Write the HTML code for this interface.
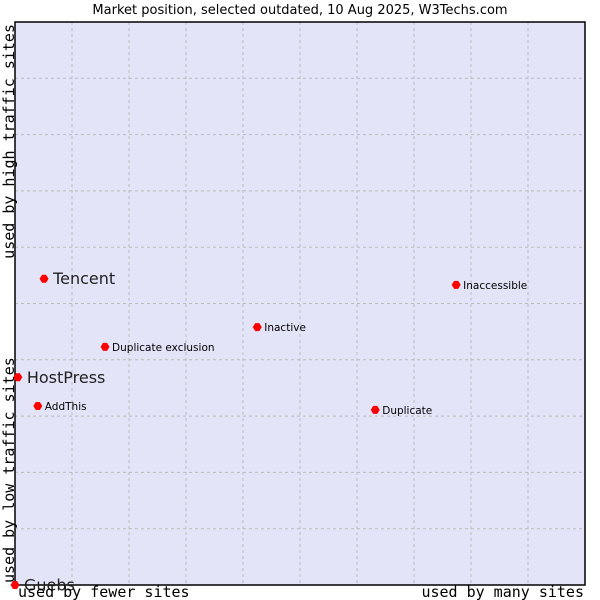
<!DOCTYPE html>
<html><head><meta charset="utf-8"><style>
body{margin:0;background:#fff;}
svg{display:block;}
</style></head><body>
<svg id="chart" width="600" height="600" xmlns="http://www.w3.org/2000/svg">
<text x="300" y="14" text-anchor="middle" font-family="DejaVu Sans, sans-serif" font-size="13" fill="#000">Market position, selected outdated, 10 Aug 2025, W3Techs.com</text>
<rect x="15" y="22" width="570" height="563" fill="#e3e4f8"/>
<g id="grid"></g>
<rect x="15" y="22" width="570" height="563" fill="none" stroke="#000" stroke-width="1.5"/>
<g id="points"></g>
<text x="18" y="597" font-family="DejaVu Sans Mono, monospace" font-size="15" fill="#000">used by fewer sites</text>
<text x="584" y="597" text-anchor="end" font-family="DejaVu Sans Mono, monospace" font-size="15" fill="#000">used by many sites</text>
<text transform="translate(14,24) rotate(-90)" text-anchor="end" font-family="DejaVu Sans Mono, monospace" font-size="15" fill="#000">used by high traffic sites</text>
<text transform="translate(14,583) rotate(-90)" text-anchor="start" font-family="DejaVu Sans Mono, monospace" font-size="15" fill="#000">used by low traffic sites</text>
</svg>
<script>
const names = ["Tencent","HostPress","Guebs","Inaccessible","Inactive","Duplicate exclusion","AddThis","Duplicate"];
const xValues = [5.1,0.5,0,77.4,42.5,15.8,4.0,63.2];
const yValues = [54.4,36.9,0,53.3,45.8,42.3,31.8,31.1];
const bigLabel = [true,true,true,false,false,false,false,false];
const NS="http://www.w3.org/2000/svg";
const L=15,T=22,W=570,H=563;
const sx=v=>L+v/100*W, sy=v=>T+H-v/100*H;
const grid=document.getElementById('grid');
for(let i=1;i<10;i++){
  const v=document.createElementNS(NS,'line');
  
  
  v.setAttribute('x1',sx(i*10));v.setAttribute('x2',sx(i*10));v.setAttribute('y1',T);v.setAttribute('y2',T+H);
  v.setAttribute('stroke','#bbb');v.setAttribute('stroke-dasharray','3,3');grid.appendChild(v);
  const h=document.createElementNS(NS,'line');
  
  
  h.setAttribute('y1',sy(i*10));h.setAttribute('y2',sy(i*10));h.setAttribute('x1',L);h.setAttribute('x2',L+W);
  h.setAttribute('stroke','#bbb');h.setAttribute('stroke-dasharray','3,3');grid.appendChild(h);
}
const pts=document.getElementById('points');
names.forEach((n,i)=>{
  const x=sx(xValues[i]),y=sy(yValues[i]);
  const d=document.createElementNS(NS,'path');
  
  
  d.setAttribute('d',`M${x-4.5},${y} L${x-2},${y-4} L${x+2},${y-4} L${x+4.5},${y} L${x+2},${y+4} L${x-2},${y+4} Z`);
  d.setAttribute('fill','#f00');pts.appendChild(d);
  const t=document.createElementNS(NS,'text');
  
  
  t.setAttribute('x',x+(bigLabel[i]?9:7));t.setAttribute('y',y+(bigLabel[i]?5.5:4));
  t.setAttribute('font-family','DejaVu Sans, sans-serif');
  t.setAttribute('font-size',bigLabel[i]?'16':'10.5');
  t.setAttribute('fill',bigLabel[i]?'#222':'#000');
  t.textContent=n;pts.appendChild(t);
});
</script>
</body></html>
